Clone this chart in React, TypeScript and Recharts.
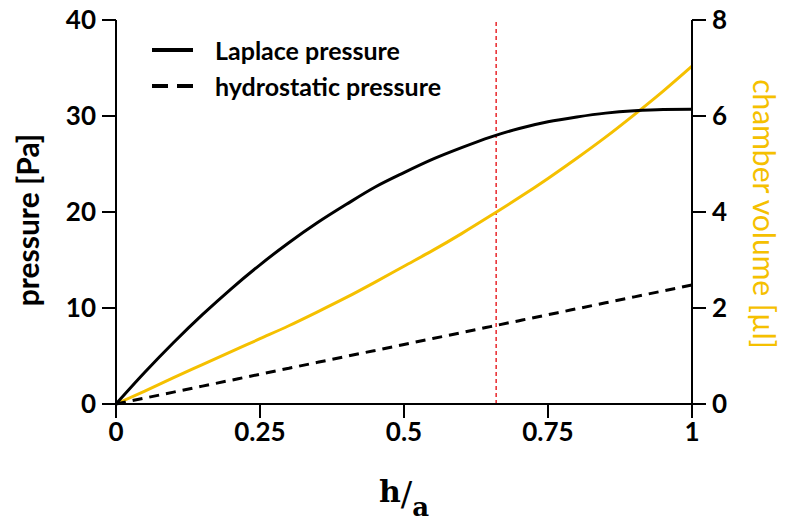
import {
  Line,
  LineChart,
  ReferenceLine,
  XAxis,
  YAxis,
} from "recharts";

const ratio = [0, 0.05, 0.1, 0.15, 0.2, 0.25, 0.3, 0.35, 0.4, 0.45, 0.5, 0.55, 0.6, 0.65, 0.7, 0.75, 0.8, 0.85, 0.9, 0.95, 1];
const laplace = [0, 3.3, 6.4, 9.3, 12.0, 14.5, 16.8, 18.9, 20.8, 22.6, 24.1, 25.5, 26.7, 27.8, 28.7, 29.4, 29.9, 30.3, 30.55, 30.68, 30.7];
const hydrostatic = [0, 0.62, 1.24, 1.86, 2.48, 3.1, 3.72, 4.34, 4.96, 5.58, 6.2, 6.82, 7.44, 8.06, 8.68, 9.3, 9.92, 10.54, 11.16, 11.78, 12.4];
const volume = [0, 0.27, 0.55, 0.82, 1.09, 1.36, 1.63, 1.92, 2.22, 2.54, 2.87, 3.2, 3.55, 3.92, 4.3, 4.7, 5.12, 5.56, 6.03, 6.52, 7.04];

const xTicks = [0, 0.25, 0.5, 0.75, 1];
const pressureTicks = [0, 10, 20, 30, 40];
const volumeTicks = [0, 2, 4, 6, 8];
const marker = 0.66;
const legendItems = ["Laplace pressure", "hydrostatic pressure"];

const data = ratio.map((r, i) => ({
  r,
  laplace: laplace[i],
  hydrostatic: hydrostatic[i],
  volume: volume[i],
}));

const FONT = "Lato, 'Open Sans', sans-serif";
const YELLOW = "#F5C000";
const tickStyle = { fill: "#000", fontSize: 26, fontWeight: 700, fontFamily: FONT };

function LegendBox() {
  return (
    <div
      style={{
        position: "absolute",
        left: 152,
        top: 32,
        fontFamily: FONT,
        fontWeight: 700,
        fontSize: 25,
        lineHeight: "36px",
      }}
    >
      {legendItems.map((name, i) => (
        <div key={name} style={{ display: "flex", alignItems: "center", height: 36 }}>
          <svg width={63} height={10}>
            <line
              x1={0}
              y1={5}
              x2={41}
              y2={5}
              stroke="#000"
              strokeWidth={4}
              strokeDasharray={i === 1 ? "16 9" : undefined}
            />
          </svg>
          <span>{name}</span>
        </div>
      ))}
    </div>
  );
}

export default function App() {
  return (
    <div style={{ position: "absolute", left: 0, top: 0, width: 785, height: 525, background: "#fff" }}>
      <LineChart width={785} height={525} data={data} margin={{ top: 20, right: 0, bottom: 0, left: 0 }}>
        <XAxis
          dataKey="r"
          type="number"
          domain={[0, 1]}
          ticks={xTicks}
          height={121}
          stroke="#000"
          strokeWidth={2}
          tickSize={14}
          tickMargin={5}
          tick={tickStyle}
          label={{
            content: (props: any) => {
              const vb = props.viewBox;
              const cx = vb.x + vb.width / 2;
              const by = vb.y + 98;
              return (
                <text x={cx} y={by} textAnchor="middle" fontFamily="'DejaVu Serif', 'Liberation Serif', serif" fontWeight={700} fill="#000">
                  <tspan fontSize={30}>h</tspan>
                  <tspan fontSize={34} fontWeight={400} dy={4}>/</tspan>
                  <tspan fontSize={26} dy={10}>a</tspan>
                </text>
              );
            },
          }}
        />
        <YAxis
          yAxisId="p"
          orientation="left"
          domain={[0, 40]}
          ticks={pressureTicks}
          width={116}
          stroke="#000"
          strokeWidth={2}
          tickSize={14}
          tickMargin={6}
          tick={tickStyle}
          label={{
            content: (props: any) => {
              const vb = props.viewBox;
              const x = vb.x + 39;
              const y = vb.y + vb.height / 2 + 8;
              return (
                <text x={x} y={y} transform={`rotate(-90 ${x} ${y})`} textAnchor="middle" fontFamily={FONT} fontWeight={700} fontSize={30} fill="#000">
                  pressure [Pa]
                </text>
              );
            },
          }}
        />
        <YAxis
          yAxisId="v"
          orientation="right"
          domain={[0, 8]}
          ticks={volumeTicks}
          width={93}
          stroke="#000"
          strokeWidth={2}
          tickSize={14}
          tickMargin={6}
          tick={tickStyle}
          label={{
            content: (props: any) => {
              const vb = props.viewBox;
              const x = vb.x + 61;
              const y = vb.y + vb.height / 2 + 2;
              return (
                <text x={x} y={y} transform={`rotate(90 ${x} ${y})`} textAnchor="middle" fontFamily={FONT} fontSize={30} fill={YELLOW}>
                  chamber volume [µl]
                </text>
              );
            },
          }}
        />
        <ReferenceLine yAxisId="p" x={marker} stroke="#E8262B" strokeWidth={1.5} strokeDasharray="4 3" />
        <Line yAxisId="v" dataKey="volume" stroke={YELLOW} strokeWidth={3} dot={false} isAnimationActive={false} type="monotone" />
        <Line yAxisId="p" dataKey="hydrostatic" stroke="#000" strokeWidth={3} strokeDasharray="10 7" dot={false} isAnimationActive={false} type="monotone" />
        <Line yAxisId="p" dataKey="laplace" stroke="#000" strokeWidth={3} dot={false} isAnimationActive={false} type="monotone" />
      </LineChart>
      <LegendBox />
    </div>
  );
}
